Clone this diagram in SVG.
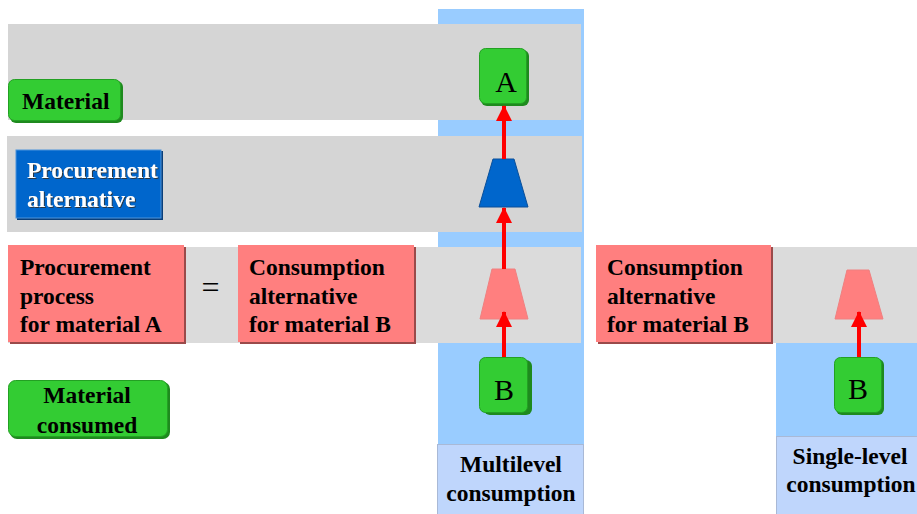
<svg xmlns="http://www.w3.org/2000/svg" width="917" height="514" viewBox="0 0 917 514">
<style>
.t{font-family:"Liberation Serif","Times New Roman",serif;font-weight:bold;font-size:23.5px;fill:#000}
.w{fill:#fff}
.big{font-family:"Liberation Serif","Times New Roman",serif;font-size:30px;fill:#000}
.band{fill:#D5D5D5}
.band3{fill:#DBDBDB}
.col{fill:#99CCFF}
.lab{fill:#BFD6FC;stroke:#A9B9D6;stroke-width:1}
.pink{fill:#FF7F7F}
.pinksh{fill:#9A4A4A}
.green{fill:#33CC33;stroke:#23A023;stroke-width:1}
.greensh{fill:#1E8A1E}
.conn{stroke:#FF0000;stroke-width:4;fill:none}
</style>
<defs>
<marker id="ah" viewBox="0 0 16 16" refX="15" refY="8" markerWidth="16" markerHeight="16" markerUnits="userSpaceOnUse" orient="auto">
<path d="M0,0 L16,8 L0,16 Z" fill="#FF0000"/>
</marker>
<filter id="ts" x="-5%" y="-10%" width="115%" height="130%">
<feDropShadow dx="1" dy="1" stdDeviation="0.4" flood-color="#333" flood-opacity="0.9"/>
</filter>
</defs>

<!-- background columns and bands -->
<rect class="col" x="438" y="9" width="146" height="435"/>
<rect class="band" x="8" y="24" width="573" height="96"/>
<rect class="band" x="7" y="136" width="575" height="96"/>
<rect class="band3" x="8" y="247" width="573" height="96"/>
<rect class="band3" x="772" y="247" width="145" height="96"/>
<rect class="col" x="776" y="343" width="141" height="93"/>

<g id="legend-material">
<rect class="greensh" x="10" y="81" width="113" height="42" rx="6"/>
<rect class="green" x="8.5" y="79.5" width="112" height="41" rx="6"/>
<text class="t" x="22" y="109">Material</text>
</g>

<g id="legend-procurement-alternative">
<rect fill="#0A3F7A" x="17" y="151" width="146" height="69"/>
<rect fill="#0066CC" stroke="#4D94DB" stroke-width="1" x="16" y="150" width="145" height="68"/>
<g filter="url(#ts)">
<text class="t w" x="27" y="178">Procurement</text>
<text class="t w" x="27" y="207">alternative</text>
</g>
</g>

<g id="procurement-process-A">
<rect class="pinksh" x="10" y="247" width="176" height="97"/>
<rect class="pink" x="8" y="245" width="176" height="97"/>
<text class="t" x="20" y="275">Procurement</text>
<text class="t" x="20" y="304">process</text>
<text class="t" x="20" y="332">for material A</text>
</g>

<g id="equals">
<text x="210.5" y="298" text-anchor="middle" font-family="Liberation Serif, serif" font-size="32" fill="#000">=</text>
</g>

<g id="consumption-alternative-B-1">
<rect class="pinksh" x="240" y="247" width="176" height="97"/>
<rect class="pink" x="238" y="245" width="176" height="97"/>
<text class="t" x="249" y="275">Consumption</text>
<text class="t" x="249" y="304">alternative</text>
<text class="t" x="249" y="332">for material B</text>
</g>

<g id="legend-material-consumed">
<rect class="greensh" x="10" y="382" width="160" height="57" rx="7"/>
<rect class="green" x="8.5" y="380.5" width="159" height="56" rx="7"/>
<text class="t" x="87" y="403" text-anchor="middle">Material</text>
<text class="t" x="87" y="433" text-anchor="middle">consumed</text>
</g>

<g id="node-A">
<rect class="greensh" x="481" y="50" width="48" height="56" rx="6"/>
<rect class="green" x="479.5" y="48.5" width="47" height="55" rx="6"/>
<text class="big" x="506" y="92" text-anchor="middle">A</text>
</g>

<g id="trap-procurement">
<path d="M493,159 L514,159 L528,207 L479,207 Z" fill="#0066CC" stroke="#0A4F99" stroke-width="1"/>
</g>

<g id="trap-consumption-1">
<path d="M492,269 L515,269 L528,319 L480,319 Z" fill="#FF7F7F" stroke="#F08080" stroke-width="1"/>
</g>

<g id="node-B-1">
<rect class="greensh" x="484" y="360" width="48" height="55" rx="6"/>
<rect class="green" x="479.5" y="357.5" width="48" height="55" rx="6"/>
<text class="big" x="504" y="400" text-anchor="middle">B</text>
</g>

<g id="label-multilevel">
<rect class="lab" x="437.5" y="444.5" width="146" height="70"/>
<text class="t" x="511" y="472" text-anchor="middle">Multilevel</text>
<text class="t" x="511" y="501" text-anchor="middle">consumption</text>
</g>

<g id="consumption-alternative-B-2">
<rect class="pinksh" x="598" y="247" width="175" height="97"/>
<rect class="pink" x="596" y="245" width="175" height="97"/>
<text class="t" x="607" y="275">Consumption</text>
<text class="t" x="607" y="304">alternative</text>
<text class="t" x="607" y="332">for material B</text>
</g>

<g id="trap-consumption-2">
<path d="M847,270 L869,270 L883,319 L835,319 Z" fill="#FF7F7F" stroke="#F08080" stroke-width="1"/>
</g>

<g id="node-B-2">
<rect class="greensh" x="836" y="359" width="48" height="56" rx="6"/>
<rect class="green" x="834.5" y="357.5" width="47" height="55" rx="6"/>
<text class="big" x="858" y="399" text-anchor="middle">B</text>
</g>

<g id="label-single-level">
<rect class="lab" x="776.5" y="436.5" width="141" height="78"/>
<text class="t" x="850" y="464" text-anchor="middle">Single-level</text>
<text class="t" x="851" y="492" text-anchor="middle">consumption</text>
</g>

<g id="connectors">
<line class="conn" x1="504" y1="357" x2="504" y2="312" marker-end="url(#ah)"/>
<line class="conn" x1="504" y1="269" x2="504" y2="208" marker-end="url(#ah)"/>
<line class="conn" x1="504" y1="159" x2="504" y2="106" marker-end="url(#ah)"/>
<line class="conn" x1="859" y1="357" x2="859" y2="312" marker-end="url(#ah)"/>
</g>
</svg>
